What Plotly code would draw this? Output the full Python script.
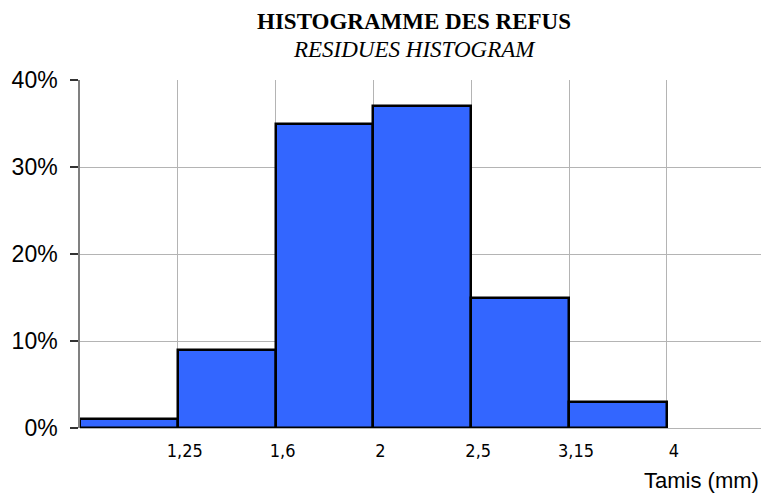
import plotly.graph_objects as go

# Data
sieve_labels = ["1,25", "1,6", "2", "2,5", "3,15", "4"]
residue_pct = [1, 9, 35, 37, 15, 3]
title_main = "HISTOGRAMME DES REFUS"
title_sub = "RESIDUES HISTOGRAM"
x_title = "Tamis (mm)"
y_ticks = [0, 10, 20, 30, 40]

W, H = 761, 494
L, R, T, B = 80, 0, 80, 66
plot_h = H - T - B

bin_centers = [i + 0.5 for i in range(len(residue_pct))]
bin_edges = [i + 1 for i in range(len(sieve_labels))]

fig = go.Figure()
fig.add_trace(go.Bar(
    x=bin_centers, y=residue_pct, width=1.0,
    marker=dict(color="#3366FF", line=dict(color="black", width=2.5)),
    hoverinfo="y",
))

def py(ypx):
    return (H - B - ypx) / plot_h

fig.update_layout(
    width=W, height=H,
    margin=dict(l=L, r=R, t=T, b=B, pad=0, autoexpand=False),
    plot_bgcolor="white", paper_bgcolor="white",
    showlegend=False,
    bargap=0,
    xaxis=dict(
        range=[0, (W - L) / 97.8],
        tickmode="array", tickvals=bin_edges, ticktext=sieve_labels,
        showgrid=True, gridcolor="#b4b4b4", gridwidth=1,
        zeroline=False, showline=False, ticks="",
        tickfont=dict(family="DejaVu Sans Condensed, Liberation Sans, Arial", size=18, color="black"),
        ticklabelshift=7, ticklabelstandoff=10,
        automargin=False,
        fixedrange=True,
    ),
    yaxis=dict(
        range=[0, 40],
        tickmode="array", tickvals=y_ticks, ticktext=[f"{v}%" for v in y_ticks],
        showgrid=True, gridcolor="#b4b4b4", gridwidth=1,
        zeroline=True, zerolinecolor="#b4b4b4", zerolinewidth=1,
        showline=True, linecolor="#808080", linewidth=1.5,
        ticks="outside", ticklen=8, tickcolor="#333333", tickwidth=1.5,
        tickfont=dict(family="Liberation Sans, Arial", size=23, color="black"),
        ticklabelstandoff=8,
        automargin=False,
        fixedrange=True,
    ),
    annotations=[
        dict(text="<b>" + title_main + "</b>", xref="paper", yref="paper",
             x=(414 - L) / (W - L - R), y=py(21), xanchor="center", yanchor="middle",
             showarrow=False,
             font=dict(family="Liberation Serif, Times New Roman, serif", size=23, color="black")),
        dict(text="<i>" + title_sub + "</i>", xref="paper", yref="paper",
             x=(414 - L) / (W - L - R), y=py(49), xanchor="center", yanchor="middle",
             showarrow=False,
             font=dict(family="Liberation Serif, Times New Roman, serif", size=23, color="black")),
        dict(text=x_title, xref="paper", yref="paper",
             x=1.0, y=py(480), xanchor="right", yanchor="middle",
             showarrow=False,
             font=dict(family="Liberation Sans, Arial", size=22, color="black")),
    ],
)

fig.write_html("out.html", config={"displayModeBar": False},
               post_script="document.body.style.margin='0';document.body.style.padding='0';")
